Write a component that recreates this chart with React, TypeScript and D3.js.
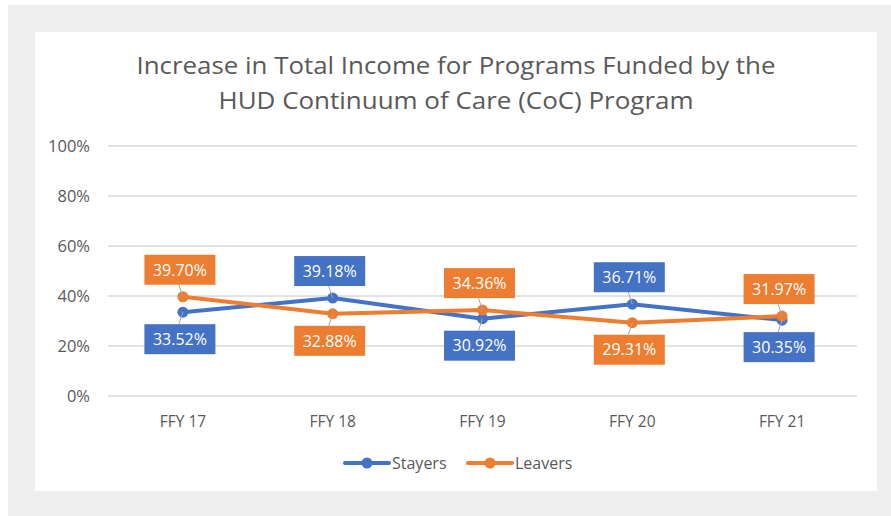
import React from "react";
import * as d3 from "d3";

const categories = ["FFY 17", "FFY 18", "FFY 19", "FFY 20", "FFY 21"];
const stayers = [0.3352, 0.3918, 0.3092, 0.3671, 0.3035];
const leavers = [0.397, 0.3288, 0.3436, 0.2931, 0.3197];
// which side of the point the data label sits on
const stayersLabelSide = ["below", "above", "below", "above", "below"];
const leaversLabelSide = ["above", "below", "above", "below", "above"];
const yTicks = [0, 0.2, 0.4, 0.6, 0.8, 1];
const titleLines = [
  "Increase in Total Income for Programs Funded by the",
  "HUD Continuum of Care (CoC) Program",
];

const W = 891;
const H = 516;
const FONT = "'Open Sans', 'DejaVu Sans', sans-serif";
const TEXT = "#595959";
const BLUE = "#4472C4";
const ORANGE = "#ED7D31";

const App = () => {
  const margin = { left: 108, right: 857, top: 146, bottom: 396 };

  const x = d3
    .scaleBand<string>()
    .domain(categories)
    .range([margin.left, margin.right])
    .padding(0);
  const cx = (c: string) => (x(c) as number) + x.bandwidth() / 2;

  const y = d3.scaleLinear().domain([0, 1]).range([margin.bottom, margin.top]);

  const line = d3
    .line<number>()
    .x((d, i) => cx(categories[i]))
    .y((d) => y(d));

  const series = [
    { name: "Stayers", values: stayers, color: BLUE, sides: stayersLabelSide },
    { name: "Leavers", values: leavers, color: ORANGE, sides: leaversLabelSide },
  ];

  const boxW = 71;
  const boxH = 30;
  const gap = 12;
  // title line widths as measured on the reference
  const titleWidths = [639, 475];

  return (
    <svg
      width={W}
      height={H}
      style={{ position: "absolute", left: 0, top: 0 }}
      fontFamily={FONT}
    >
      <rect x={0} y={0} width={W} height={H} fill="#ffffff" />
      <rect x={8} y={5} width={W - 8} height={H - 5} fill="#eeeeee" />
      <rect x={35} y={32} width={842} height={459} fill="#ffffff" />

      {/* title */}
      {titleLines.map((t, i) => (
        <text
          key={t}
          x={456}
          y={74 + i * 35}
          textAnchor="middle"
          fontSize={24.5}
          fill={TEXT}
          textLength={titleWidths[i]}
          lengthAdjust="spacingAndGlyphs"
        >
          {t}
        </text>
      ))}

      {/* gridlines + y labels */}
      {yTicks.map((t) => (
        <g key={t}>
          <line
            x1={margin.left}
            x2={margin.right}
            y1={y(t)}
            y2={y(t)}
            stroke="#d9d9d9"
            strokeWidth={1.3}
          />
          <text
            x={90}
            y={y(t)}
            dy="0.35em"
            textAnchor="end"
            fontSize={16.5}
            fill={TEXT}
          >
            {d3.format(".0%")(t)}
          </text>
        </g>
      ))}

      {/* x labels */}
      {categories.map((c) => (
        <text
          key={c}
          x={cx(c)}
          y={427}
          textAnchor="middle"
          fontSize={15.5}
          fill={TEXT}
        >
          {c}
        </text>
      ))}

      {/* lines and markers */}
      {series.map((s) => (
        <g key={s.name}>
          <path
            d={line(s.values) || ""}
            fill="none"
            stroke={s.color}
            strokeWidth={4}
            strokeLinejoin="round"
            strokeLinecap="round"
          />
          {s.values.map((v, i) => (
            <circle
              key={i}
              cx={cx(categories[i])}
              cy={y(v)}
              r={5.5}
              fill={s.color}
            />
          ))}
        </g>
      ))}

      {/* data labels with leader lines */}
      {series.map((s) => (
        <g key={s.name + "-labels"}>
          {s.values.map((v, i) => {
            const px = cx(categories[i]);
            const py = y(v);
            const above = s.sides[i] === "above";
            const bx = px - 3 - boxW / 2;
            const by = above ? py - gap - boxH : py + gap;
            const edge = above ? by + boxH : by;
            return (
              <g key={i}>
                <line
                  x1={px}
                  y1={py}
                  x2={px - 4}
                  y2={edge}
                  stroke="#a6a6a6"
                  strokeWidth={1}
                />
                <rect x={bx} y={by} width={boxW} height={boxH} fill={s.color} />
                <text
                  x={bx + boxW / 2}
                  y={by + boxH / 2}
                  dy="0.36em"
                  textAnchor="middle"
                  fontSize={16}
                  fill="#ffffff"
                >
                  {d3.format(".2%")(v)}
                </text>
              </g>
            );
          })}
        </g>
      ))}

      {/* legend */}
      {series.map((s, i) => {
        const lx = 345 + i * 123;
        return (
          <g key={s.name + "-legend"}>
            <line
              x1={lx}
              x2={lx + 44}
              y1={463}
              y2={463}
              stroke={s.color}
              strokeWidth={4}
              strokeLinecap="round"
            />
            <circle cx={lx + 22} cy={463} r={5.5} fill={s.color} />
            <text x={lx + 47} y={463} dy="0.35em" fontSize={16} fill={TEXT}>
              {s.name}
            </text>
          </g>
        );
      })}
    </svg>
  );
};

export default App;
